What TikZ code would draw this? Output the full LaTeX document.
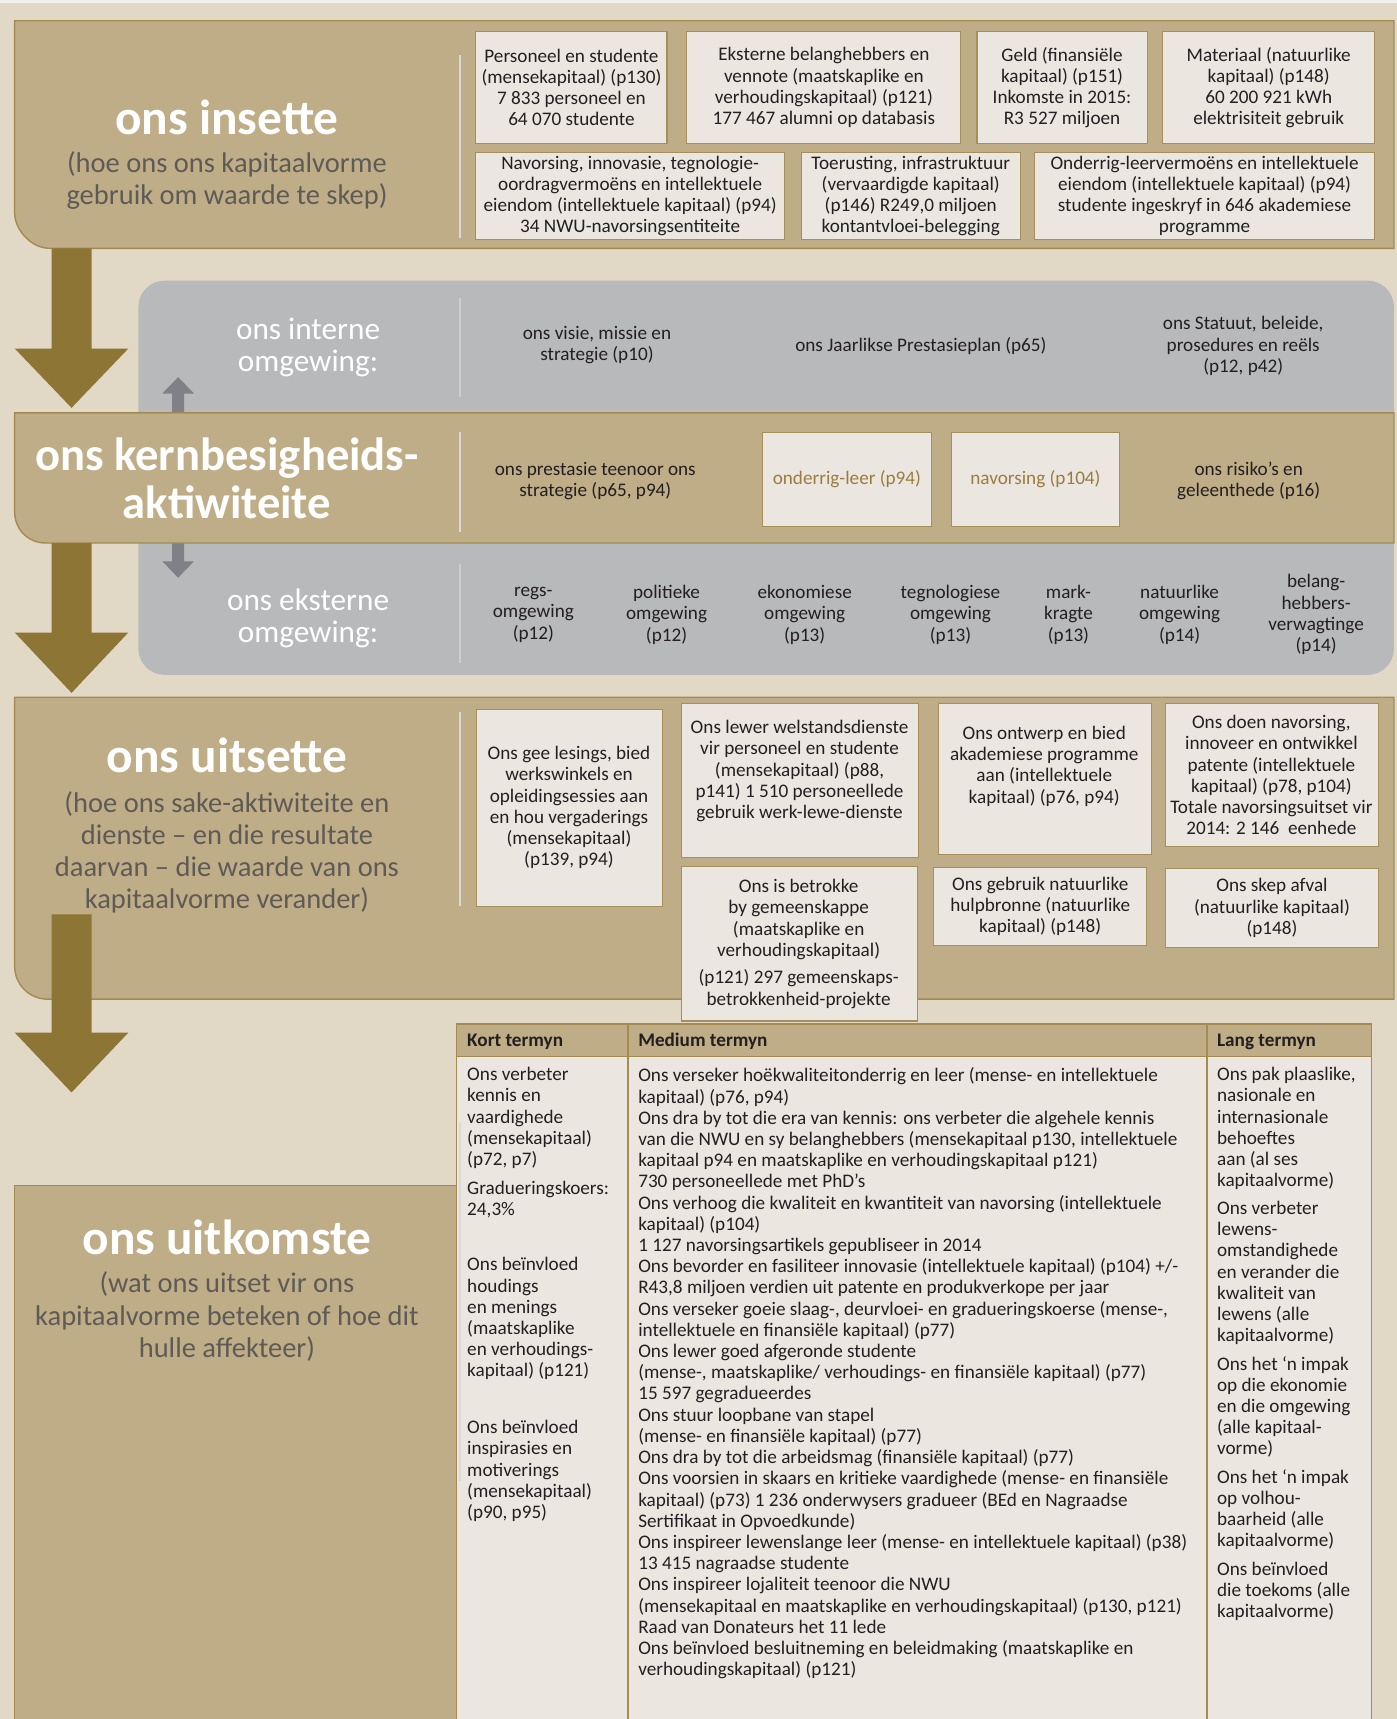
\documentclass[tikz,border=0pt]{standalone}
\usepackage{fontspec}
\setmainfont{Carlito}
\definecolor{cBg}{HTML}{E1D9C6}
\definecolor{cTan}{HTML}{BFAD87}
\definecolor{cTanLine}{HTML}{A38B52}
\definecolor{cBoxFill}{HTML}{EBE7E0}
\definecolor{cBoxLine}{HTML}{A68F5A}
\definecolor{cBand}{HTML}{B8B9BB}
\definecolor{cBigArr}{HTML}{8C7535}
\definecolor{cSmallArr}{HTML}{808186}
\definecolor{cSubGrey}{HTML}{5E5B57}
\definecolor{cGoldText}{HTML}{977D3F}
\definecolor{cDivTan}{HTML}{D9D9DA}
\definecolor{cDivBand}{HTML}{CDCED0}
\definecolor{cInk}{HTML}{231F20}
\newcommand\fbody{\fontsize{17.5}{19.35}\selectfont}
\newcommand\fhdr{\fontsize{17.5}{19.35}\selectfont\bfseries}
\newcommand\ftitle{\fontsize{45}{44}\selectfont\bfseries}
\newcommand\fkern{\fontsize{42.5}{44}\selectfont\bfseries}
\newcommand\fsub{\fontsize{26}{29.4}\selectfont}
\newcommand\fenv{\fontsize{28.5}{29.8}\selectfont}
\begin{document}
\begin{tikzpicture}[x=1pt,y=-1pt,
  panel/.style={fill=cTan, draw=cTanLine, line width=1.3pt},
  inbox/.style={draw=cBoxLine, fill=cBoxFill, line width=1pt, inner sep=0pt, anchor=north west},
  btxt/.style={align=center, inner sep=0pt, font=\fbody, text=cInk},
  ptxt/.style={align=left, inner sep=0pt, font=\fbody, text=cInk, anchor=north west},
  titl/.style={text=white, inner sep=0pt, align=center},
  subt/.style={text=cSubGrey, font=\fsub, inner sep=0pt, align=center},
  envl/.style={text=white, font=\fenv, inner sep=0pt, align=center},
  divT/.style={draw=cDivTan, line width=2pt},
  divB/.style={draw=cDivBand, line width=2pt},
  hdr/.style={font=\fhdr, text=cInk, anchor=west, inner sep=0pt},
  tline/.style={draw=cTanLine, line width=1.3pt}]
\useasboundingbox (0,0) rectangle (1274,1568);
\fill[cBg] (0,0) rectangle (1274,1568);
\fill[white!94!black] (0,0) rectangle (1274,2.7);

% grey environment band
\fill[cBand, rounded corners=24pt] (126.2,256) rectangle (1271.5,615.6);

% ---------- insette panel ----------
\draw[panel] (13.4,18.9) -- (1271.5,18.9) -- (1271.5,226.5) -- (45.4,226.5)
  .. controls (27.7,226.5) and (13.4,208.8) .. (13.4,194.5) -- cycle;
\node[titl, font=\ftitle, anchor=base] (tIns) at (207,123) {ons insette};
\node[subt] (sIns) at (207,165) {(hoe ons ons kapitaalvorme\\gebruik om waarde te skep)};
\draw[divT] (419.5,50) -- (419.5,217);

\node[inbox, minimum width=174.3pt, minimum height=102.7pt] (in1) at (433.6,28) {};
\node[btxt] (in1t) at (in1.center) {Personeel en studente\\(mensekapitaal) (p130)\\7 833 personeel en\\64 070 studente};
\node[inbox, minimum width=250pt, minimum height=102.7pt] (in2) at (626,28) {};
\node[btxt] (in2t) at (in2.center) {Eksterne belanghebbers en\\vennote (maatskaplike en\\verhoudingskapitaal) (p121)\\177 467 alumni op databasis};
\node[inbox, minimum width=155.1pt, minimum height=102.7pt] (in3) at (890.7,28) {};
\node[btxt] (in3t) at (in3.center) {Geld (finansiële\\kapitaal) (p151)\\Inkomste in 2015:\\R3 527 miljoen};
\node[inbox, minimum width=193.5pt, minimum height=102.7pt] (in4) at (1060,28) {};
\node[btxt] (in4t) at (in4.center) {Materiaal (natuurlike\\kapitaal) (p148)\\60 200 921 kWh\\elektrisiteit gebruik};
\node[inbox, minimum width=281.4pt, minimum height=79.7pt] (in5) at (433.6,138.3) {};
\node[btxt] (in5t) at (in5.center) {Navorsing, innovasie, tegnologie-\\oordragvermoëns en intellektuele\\eiendom (intellektuele kapitaal) (p94)\\34 NWU-navorsingsentiteite};
\node[inbox, minimum width=199.5pt, minimum height=79.7pt] (in6) at (730.5,138.3) {};
\node[btxt] (in6t) at (in6.center) {Toerusting, infrastruktuur\\(vervaardigde kapitaal)\\(p146) R249,0 miljoen\\kontantvloei-belegging};
\node[inbox, minimum width=310.5pt, minimum height=79.7pt] (in7) at (943,138.3) {};
\node[btxt] (in7t) at (in7.center) {Onderrig-leervermoëns en intellektuele\\eiendom (intellektuele kapitaal) (p94)\\studente ingeskryf in 646 akademiese\\programme};

% big arrow 1
\fill[cBigArr] (47,226.5) -- (83.5,226.5) -- (83.5,318) -- (117,318) -- (65.25,372) -- (13.5,318) -- (47,318) -- cycle;

% ---------- interne omgewing ----------
\node[envl] (envI) at (281,317) {ons interne\\omgewing:};
\draw[divB] (419.5,272) -- (419.5,362);
\node[btxt] (i1) at (544.5,315) {ons visie, missie en\\strategie (p10)};
\node[btxt] (i2) at (840,315.3) {ons Jaarlikse Prestasieplan (p65)};
\node[btxt] (i3) at (1134,315.5) {ons Statuut, beleide,\\prosedures en reëls\\(p12, p42)};

% small grey arrows
\fill[cSmallArr] (157,376.6) -- (157,359) -- (148,359) -- (162.5,344) -- (177,359) -- (168,359) -- (168,376.6) -- cycle;
\fill[cSmallArr] (157,495.3) -- (157,512) -- (148,512) -- (162.5,527) -- (177,512) -- (168,512) -- (168,495.3) -- cycle;

% ---------- kern panel ----------
\draw[panel] (13.4,376.6) -- (1271.5,376.6) -- (1271.5,495.3) -- (41.4,495.3)
  .. controls (25.9,495.3) and (13.4,482.8) .. (13.4,467.3) -- cycle;
\node[titl, font=\fkern] (tKern) at (207,436.5) {ons kernbesigheids-\\aktiwiteite};
\draw[divT] (419.5,394) -- (419.5,485);
\node[btxt] (k1) at (543,438.7) {ons prestasie teenoor ons\\strategie (p65, p94)};
\node[inbox, minimum width=154pt, minimum height=86pt] (k2) at (695,393.7) {};
\node[btxt, text=cGoldText] (k2t) at (k2.center) {onderrig-leer (p94)};
\node[inbox, minimum width=154pt, minimum height=86pt] (k3) at (867,393.7) {};
\node[btxt, text=cGoldText] (k3t) at (k3.center) {navorsing (p104)};
\node[btxt] (k4) at (1139,438.4) {ons risiko’s en\\geleenthede (p16)};

% ---------- eksterne omgewing ----------
\node[envl] (envE) at (281,564) {ons eksterne\\omgewing:};
\draw[divB] (419.5,514) -- (419.5,605);
\node[btxt] (e1) at (486.5,560.7) {regs-\\omgewing\\(p12)};
\node[btxt] (e2) at (608,560.7) {politieke\\omgewing\\(p12)};
\node[btxt] (e3) at (734,560.7) {ekonomiese\\omgewing\\(p13)};
\node[btxt] (e4) at (867,560.7) {tegnologiese\\omgewing\\(p13)};
\node[btxt] (e5) at (974.6,560.7) {mark-\\kragte\\(p13)};
\node[btxt] (e6) at (1076,560.7) {natuurlike\\omgewing\\(p14)};
\node[btxt] (e7) at (1200.5,560.7) {belang-\\hebbers-\\verwagtinge\\(p14)};

% big arrow 2
\fill[cBigArr] (47,495.3) -- (83.5,495.3) -- (83.5,577) -- (117,577) -- (65.25,632) -- (13.5,577) -- (47,577) -- cycle;

% ---------- uitsette panel ----------
\draw[panel] (13.4,636) -- (1271.5,636) -- (1271.5,911.4) -- (43.4,911.4)
  .. controls (26.8,911.4) and (13.4,898) .. (13.4,881.4) -- cycle;
\node[titl, font=\ftitle, anchor=base] (tUit) at (207,704.6) {ons uitsette};
\node[subt] (sUit) at (207,777.5) {(hoe ons sake-aktiwiteite en\\dienste – en die resultate\\daarvan – die waarde van ons\\kapitaalvorme verander)};
\draw[divT] (419.5,649) -- (419.5,826);

% big arrow 3
\fill[cBigArr] (47,834) -- (83.5,834) -- (83.5,942) -- (117,942) -- (65.25,996.5) -- (13.5,942) -- (47,942) -- cycle;

\node[inbox, minimum width=170pt, minimum height=179pt] (u1) at (434,647) {};
\node[btxt] (u1t) at (519,736.6) {Ons gee lesings, bied\\werkswinkels en\\opleidingsessies aan\\en hou vergaderings\\(mensekapitaal)\\(p139, p94)};
\node[inbox, minimum width=216.7pt, minimum height=139.8pt] (u2) at (621,641.5) {};
\node[btxt] (u2t) at (729.3,703.3) {Ons lewer welstandsdienste\\vir personeel en studente\\(mensekapitaal) (p88,\\p141) 1 510 personeellede\\gebruik werk-lewe-dienste};
\node[inbox, minimum width=194pt, minimum height=137.5pt] (u3) at (855.5,641.5) {};
\node[btxt] (u3t) at (952.5,698.8) {Ons ontwerp en bied\\akademiese programme\\aan (intellektuele\\kapitaal) (p76, p94)};
\node[inbox, minimum width=194.9pt, minimum height=130.5pt] (u4) at (1062.3,640.8) {};
\node[btxt] (u4t) at (1159.7,707) {Ons doen navorsing,\\innoveer en ontwikkel\\patente (intellektuele\\kapitaal) (p78, p104)\\Totale navorsingsuitset vir\\2014: 2 146~ eenhede};
\node[inbox, minimum width=215pt, minimum height=141pt] (u5) at (621,789.8) {};
\node[btxt] (u5t) at (728.5,861) {Ons is betrokke\\by gemeenskappe\\(maatskaplike en\\verhoudingskapitaal)\\[5.7pt](p121) 297 gemeenskaps-\\betrokkenheid-projekte};
\node[inbox, minimum width=194.1pt, minimum height=71.4pt] (u6) at (851.3,790.4) {};
\node[btxt] (u6t) at (u6.center) {Ons gebruik natuurlike\\hulpbronne (natuurlike\\kapitaal) (p148)};
\node[inbox, minimum width=194.9pt, minimum height=71.4pt] (u7) at (1062.3,792) {};
\node[btxt] (u7t) at (u7.center) {Ons skep afval\\(natuurlike kapitaal)\\(p148)};

% ---------- uitkomste panel ----------
\fill[cTan] (13.4,1081.6) rectangle (416.5,1580);
\draw[tline] (13.4,1580) -- (13.4,1081.6) -- (416.5,1081.6);
\node[titl, font=\ftitle, anchor=base] (tOut) at (207,1144) {ons uitkomste};
\node[subt] (sOut) at (207,1201) {(wat ons uitset vir ons\\kapitaalvorme beteken of hoe dit\\hulle affekteer)};

% ---------- table ----------
\fill[cBoxFill] (416.5,963.5) rectangle (1251,1580);
\fill[cTan] (416.5,934) rectangle (1251,963.5);
\draw[tline] (416.5,1580) -- (416.5,934) -- (1251,934) -- (1251,1580);
\draw[tline] (416.5,963.5) -- (1251,963.5);
\draw[tline] (572.7,934) -- (572.7,1580);
\draw[tline] (1101,934) -- (1101,1580);
\draw[draw=cDivTan, line width=1.5pt] (419.5,1024) -- (419.5,1351);

\node[hdr] (h1) at (426,950) {Kort termyn};
\node[hdr] (h2) at (582,950) {Medium termyn};
\node[hdr] (h3) at (1110,950) {Lang termyn};

\node[ptxt] (kp1) at (426,972) {\strut Ons verbeter\\kennis en\\vaardighede\\(mensekapitaal)\\(p72, p7)};
\node[ptxt] (kp2) at (426,1075.5) {\strut Gradueringskoers:\\24,3\%};
\node[ptxt] (kp3) at (426,1145.5) {\strut Ons beïnvloed\\houdings\\en menings\\(maatskaplike\\en verhoudings-\\kapitaal) (p121)};
\node[ptxt] (kp4) at (426,1294) {\strut Ons beïnvloed\\inspirasies en\\motiverings\\(mensekapitaal)\\(p90, p95)};

\node[ptxt] (med) at (582,973) {\strut Ons verseker hoëkwaliteitonderrig en leer (mense- en intellektuele\\
kapitaal) (p76, p94)\\
Ons dra by tot die era van kennis: ons verbeter die algehele kennis\\
van die NWU en sy belanghebbers (mensekapitaal p130, intellektuele\\
kapitaal p94 en maatskaplike en verhoudingskapitaal p121)\\
730 personeellede met PhD’s\\
Ons verhoog die kwaliteit en kwantiteit van navorsing (intellektuele\\
kapitaal) (p104)\\
1 127 navorsingsartikels gepubliseer in 2014\\
Ons bevorder en fasiliteer innovasie (intellektuele kapitaal) (p104) +/-\\
R43,8 miljoen verdien uit patente en produkverkope per jaar\\
Ons verseker goeie slaag-, deurvloei- en gradueringskoerse (mense-,\\
intellektuele en finansiële kapitaal) (p77)\\
Ons lewer goed afgeronde studente\\
(mense-, maatskaplike/ verhoudings- en finansiële kapitaal) (p77)\\
15 597 gegradueerdes\\
Ons stuur loopbane van stapel\\
(mense- en finansiële kapitaal) (p77)\\
Ons dra by tot die arbeidsmag (finansiële kapitaal) (p77)\\
Ons voorsien in skaars en kritieke vaardighede (mense- en finansiële\\
kapitaal) (p73) 1 236 onderwysers gradueer (BEd en Nagraadse\\
Sertifikaat in Opvoedkunde)\\
Ons inspireer lewenslange leer (mense- en intellektuele kapitaal) (p38)\\
13 415 nagraadse studente\\
Ons inspireer lojaliteit teenoor die NWU\\
(mensekapitaal en maatskaplike en verhoudingskapitaal) (p130, p121)\\
Raad van Donateurs het 11 lede\\
Ons beïnvloed besluitneming en beleidmaking (maatskaplike en\\
verhoudingskapitaal) (p121)};

\node[ptxt] (lp1) at (1110,972) {\strut Ons pak plaaslike,\\nasionale en\\internasionale\\behoeftes\\aan (al ses\\kapitaalvorme)};
\node[ptxt] (lp2) at (1110,1094) {\strut Ons verbeter\\lewens-\\omstandighede\\en verander die\\kwaliteit van\\lewens (alle\\kapitaalvorme)};
\node[ptxt] (lp3) at (1110,1236) {\strut Ons het ‘n impak\\op die ekonomie\\en die omgewing\\(alle kapitaal-\\vorme)};
\node[ptxt] (lp4) at (1110,1339) {\strut Ons het ‘n impak\\op volhou-\\baarheid (alle\\kapitaalvorme)};
\node[ptxt] (lp5) at (1110,1423) {\strut Ons beïnvloed\\die toekoms (alle\\kapitaalvorme)};
\end{tikzpicture}
\end{document}
